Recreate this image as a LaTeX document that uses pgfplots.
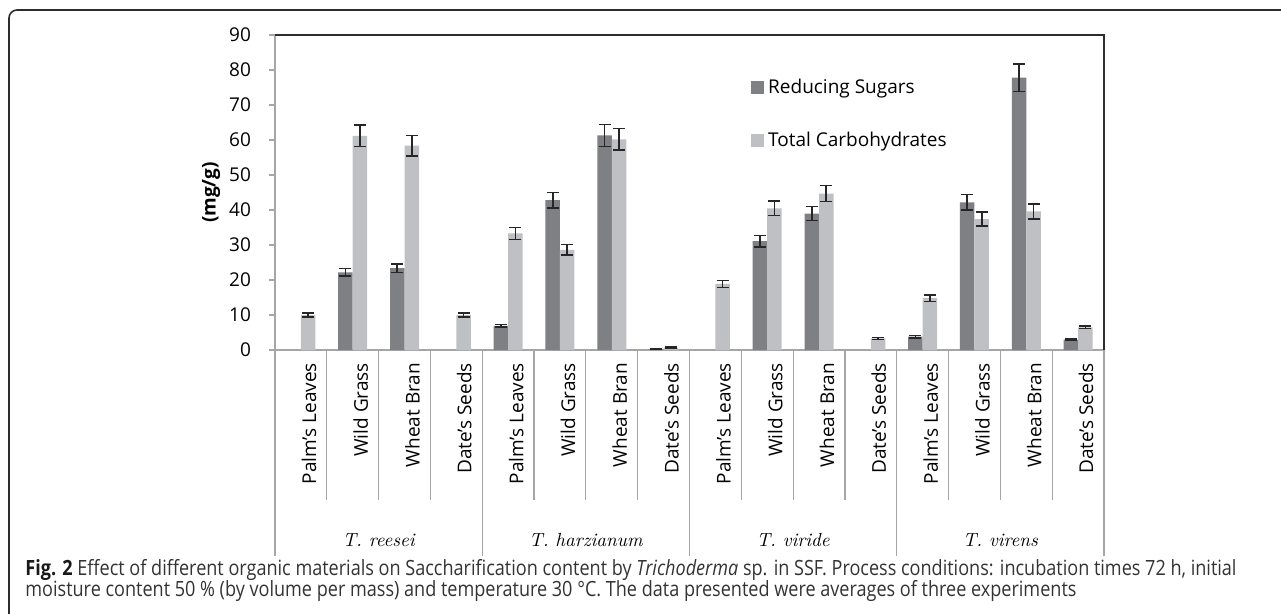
\documentclass[border=0pt]{standalone}
\usepackage{fontspec}
\setsansfont{Open Sans}
\renewcommand{\familydefault}{\sfdefault}
\newfontfamily\capfont[FakeStretch=0.86]{Open Sans}
\usepackage{pgfplots}
\usepackage{pgfplotstable}
\pgfplotsset{compat=1.18}

\definecolor{rsug}{RGB}{127,128,132}
\definecolor{tcarb}{RGB}{191,192,196}
\definecolor{axgray}{RGB}{166,166,166}
\definecolor{framec}{RGB}{45,45,45}

% slot index: 0-3 T. reesei, 4-7 T. harzianum, 8-11 T. viride, 12-15 T. virens
\pgfplotstableread{
x  y     e
1  22.2  1.1
2  23.4  1.2
4  6.9   0.4
5  42.8  2.2
6  61.3  3.1
7  0.2   0.1
9  31.1  1.6
10 39.0  2.0
12 3.8   0.3
13 42.2  2.2
14 77.8  3.9
15 3.0   0.2
}\reducing

\pgfplotstableread{
x  y     e
0  10.0  0.5
1  61.2  3.1
2  58.4  2.9
3  10.0  0.5
4  33.3  1.7
5  28.6  1.5
6  60.2  3.1
7  0.7   0.2
8  18.9  1.0
9  40.5  2.1
10 44.7  2.3
11 3.3   0.3
12 14.8  0.9
13 37.4  2.0
14 39.6  2.1
15 6.5   0.4
}\carbs

\begin{document}
\begin{tikzpicture}
\useasboundingbox (0,0) rectangle (640.5bp,307bp);
\draw[framec, line width=0.8bp] (4.5bp,-1bp) -- (4.5bp,298bp)
  arc[start angle=180, end angle=90, radius=4bp] -- (641bp,302bp);

\begin{axis}[
  at={(137.5bp,132bp)}, anchor=south west,
  scale only axis, width=414.5bp, height=157.5bp,
  xmin=-0.5, xmax=15.5, ymin=0, ymax=90,
  ybar=0pt, bar width=7.25bp,
  every axis plot post/.append style={
    legend image code/.code={\fill[##1] (0bp,-3.25bp) rectangle (6.5bp,3.25bp);}},
  clip=false,
  font=\fontsize{9.5bp}{11bp}\selectfont,
  axis line style={axgray, line width=0.7bp},
  ytick={0,10,...,90}, ytick pos=left,
  tick align=outside, major tick length=3bp,
  ytick style={axgray, line width=0.6bp},
  xtick={0,...,15}, xtick style={draw=none},
  xticklabels={Palm's Leaves, Wild Grass, Wheat Bran, Date's Seeds,
               Palm's Leaves, Wild Grass, Wheat Bran, Date's Seeds,
               Palm's Leaves, Wild Grass, Wheat Bran, Date's Seeds,
               Palm's Leaves, Wild Grass, Wheat Bran, Date's Seeds},
  xticklabel style={rotate=90, anchor=east, yshift=-4bp},
  yticklabel style={anchor=east, xshift=-5.5bp},
  /pgf/number format/assume math mode=true,
  ylabel={\bfseries (mg/g)},
  every axis y label/.style={at={(rel axis cs:0,0.5)}, xshift=-32bp, rotate=90, anchor=center},
  legend style={at={(rel axis cs:0.574,0.875)}, anchor=north west, draw=none, fill=none,
    inner sep=0pt, row sep=14bp, font=\fontsize{9.5bp}{11bp}\selectfont},
  legend cell align=left,
]
\addplot[fill=rsug, draw=none,
  error bars/.cd, y dir=both, y explicit,
  error bar style={black!85, line width=0.8bp},
  error mark options={rotate=90, black!85, line width=0.8bp, mark size=3bp}]
  table[x=x, y=y, y error=e] {\reducing};
\addplot[fill=tcarb, draw=none,
  error bars/.cd, y dir=both, y explicit,
  error bar style={black!85, line width=0.8bp},
  error mark options={rotate=90, black!85, line width=0.8bp, mark size=3bp}]
  table[x=x, y=y, y error=e] {\carbs};
\legend{Reducing Sugars, Total Carbohydrates}

\draw[framec, line width=0.8bp] (rel axis cs:0,1) -- (rel axis cs:1,1) -- (rel axis cs:1,0);
\pgfplotsinvokeforeach{-0.5,0.5,...,15.5}{
  \draw[axgray, line width=0.6bp] (axis cs:#1,0) -- ++(0pt,-75bp);}
\pgfplotsinvokeforeach{-0.5,3.5,7.5,11.5,15.5}{
  \draw[axgray, line width=0.6bp] (axis cs:#1,0) -- ++(0pt,-103bp);}
\node[font=\rmfamily\itshape\fontsize{9.5bp}{11bp}\selectfont] at (axis cs:1.5,0) [yshift=-95bp] {T. reesei};
\node[font=\rmfamily\itshape\fontsize{9.5bp}{11bp}\selectfont] at (axis cs:5.5,0) [yshift=-95bp] {T. harzianum};
\node[font=\rmfamily\itshape\fontsize{9.5bp}{11bp}\selectfont] at (axis cs:9.5,0) [yshift=-95bp] {T. viride};
\node[font=\rmfamily\itshape\fontsize{9.5bp}{11bp}\selectfont] at (axis cs:13.5,0) [yshift=-95bp] {T. virens};
\end{axis}

\node[anchor=base west, inner sep=0pt, text=black!80, font=\capfont\fontsize{10.5bp}{12bp}\selectfont]
  at (12.5bp,19.15bp) {\textbf{\color{black!90}Fig. 2} Effect of different organic materials on Saccharification content by \textit{Trichoderma} sp. in SSF. Process conditions: incubation times 72 h, initial};
\node[anchor=base west, inner sep=0pt, text=black!80, font=\capfont\fontsize{10.5bp}{12bp}\selectfont]
  at (12.5bp,8.65bp) {moisture content 50 \% (by volume per mass) and temperature 30 °C. The data presented were averages of three experiments};
\end{tikzpicture}
\end{document}
